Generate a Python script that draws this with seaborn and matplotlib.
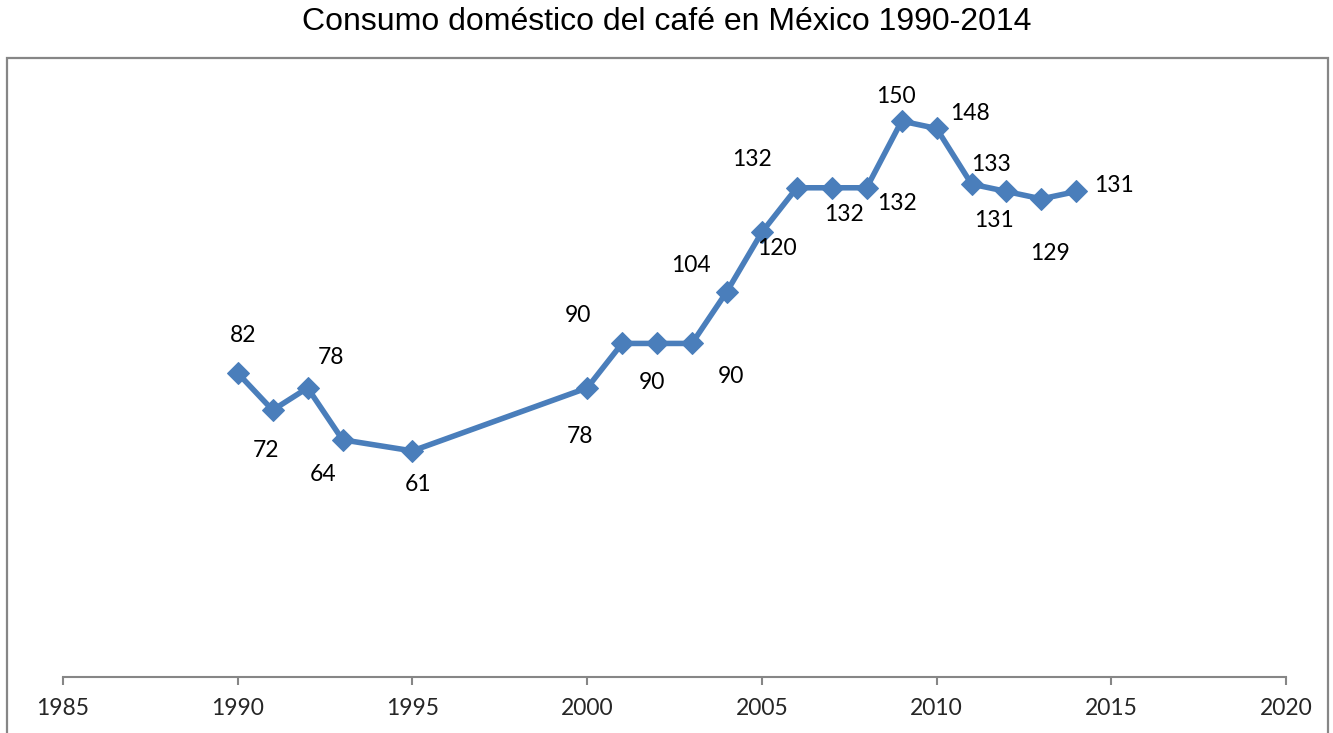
import matplotlib
matplotlib.use("Agg")
import matplotlib.pyplot as plt
from matplotlib.patches import Rectangle
import seaborn as sns
import pandas as pd

years = [1990, 1991, 1992, 1993, 1995, 2000, 2001, 2002, 2003, 2004,
         2005, 2006, 2007, 2008, 2009, 2010, 2011, 2012, 2013, 2014]
consumo = [82, 72, 78, 64, 61, 78, 90, 90, 90, 104,
           120, 132, 132, 132, 150, 148, 133, 131, 129, 131]
x_ticks = [1985, 1990, 1995, 2000, 2005, 2010, 2015, 2020]
title = "Consumo doméstico del café en México 1990-2014"

# label offsets (points) so the value labels avoid the line
label_offsets = [(4, 27), (-5, -29), (17, 22), (-14, -25), (4, -24),
                 (-5, -35), (-32, 20), (-4, -28), (28, -24), (-26, 19),
                 (11, -12), (-32, 20), (9, -19), (22, -11), (-4, 18),
                 (24, 11), (14, 14), (-9, -21), (6, -39), (27, 4)]

df = pd.DataFrame({"year": years, "consumo": consumo})

sns.set_style("white")
plt.rcParams["font.family"] = ["Lato", "DejaVu Sans"]

W, H = 1333, 733
fig = plt.figure(figsize=(W / 100, H / 100), dpi=100)
ax = fig.add_axes([63 / W, (H - 677) / H, (1286 - 63) / W, (677 - 84) / H])

line_color = "#4A7EBB"
sns.lineplot(data=df, x="year", y="consumo", ax=ax, color=line_color,
             linewidth=4.0, marker="D", markersize=11.5,
             markeredgecolor=line_color, markerfacecolor=line_color)

for xv, yv, (dx, dy) in zip(years, consumo, label_offsets):
    ax.annotate(str(yv), (xv, yv), xytext=(dx, dy), textcoords="offset points",
                ha="center", va="center", fontsize=16.5, color="#000000")

ax.set_xlim(1985, 2020)
ax.set_ylim(0, 160)
ax.set_xticks(x_ticks)
ax.set_xticklabels([str(t) for t in x_ticks], fontsize=16.5)
ax.set_yticks([])
ax.set_xlabel("")
ax.set_ylabel("")
for side in ["left", "top", "right"]:
    ax.spines[side].set_visible(False)
ax.spines["bottom"].set_color("#868686")
ax.spines["bottom"].set_linewidth(1.5)
ax.tick_params(axis="x", direction="out", length=6, width=1.5,
               color="#868686", pad=9, bottom=True)
ax.patch.set_alpha(0)

fig.text(0.5, 1 - 22 / H, title, ha="center", va="center",
         fontsize=23, family="Liberation Sans", color="#000000")

# chart area border
frame = Rectangle((7 / W, -10 / H), (1328 - 7) / W, (H - 58 + 10) / H,
                  transform=fig.transFigure, fill=False,
                  edgecolor="#868686", linewidth=1.6, clip_on=False)
fig.patches.append(frame)

fig.savefig("out.png", dpi=100)
